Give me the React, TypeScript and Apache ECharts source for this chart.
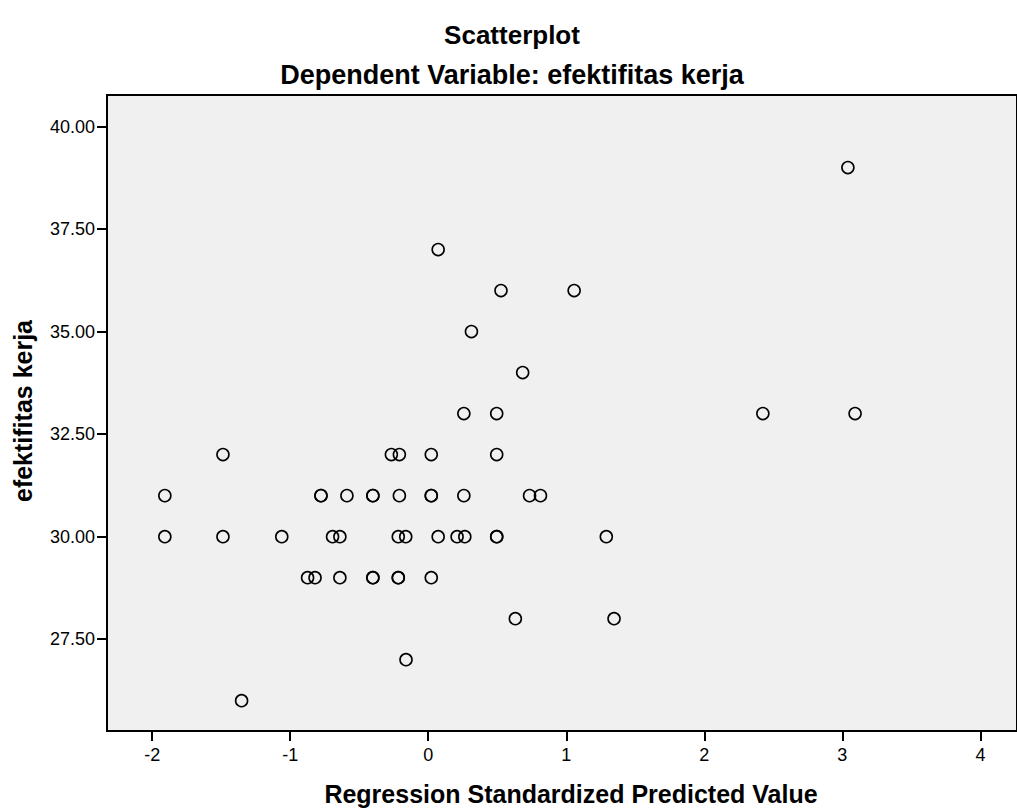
import React, { useEffect, useRef } from "react";
import * as echarts from "echarts";

const predictedValue: number[] = [
  3.04,
  0.072,
  0.527, 1.057,
  0.313,
  0.684,
  0.258, 0.496, 2.424, 3.092,
  -1.487, -0.267, -0.209, 0.022, 0.496,
  -1.908, -0.777, -0.777, -0.589, -0.401, -0.401, -0.209, 0.022, 0.022, 0.258, 0.734, 0.813,
  -1.908, -1.487, -1.061, -0.693, -0.64, -0.217, -0.163, 0.072, 0.209, 0.265, 0.496, 0.496, 1.29,
  -0.874, -0.82, -0.64, -0.401, -0.401, -0.217, -0.217, 0.022,
  0.631, 1.346,
  -0.161,
  -1.352,
];

const efektifitasKerja: number[] = [
  39,
  37,
  36, 36,
  35,
  34,
  33, 33, 33, 33,
  32, 32, 32, 32, 32,
  31, 31, 31, 31, 31, 31, 31, 31, 31, 31, 31, 31,
  30, 30, 30, 30, 30, 30, 30, 30, 30, 30, 30, 30, 30,
  29, 29, 29, 29, 29, 29, 29, 29,
  28, 28,
  27,
  26,
];

const xTicks: number[] = [-2, -1, 0, 1, 2, 3, 4];
const yTicks: number[] = [27.5, 30, 32.5, 35, 37.5, 40];

const titleText = "Scatterplot";
const subtitleText = "Dependent Variable: efektifitas kerja";
const xName = "Regression Standardized Predicted Value";
const yName = "efektifitas kerja";

const FONT = "'Liberation Sans', Arial, Helvetica, sans-serif";

export default function App() {
  const ref = useRef<HTMLDivElement>(null);

  useEffect(() => {
    if (!ref.current) return;
    const chart = echarts.init(ref.current, undefined, { renderer: "svg" });
    const points = predictedValue.map((x, i) => [x, efektifitasKerja[i]]);
    chart.setOption({
      animation: false,
      backgroundColor: "#ffffff",
      grid: {
        left: 107,
        top: 95,
        right: -3,
        bottom: 78,
        show: true,
        backgroundColor: "#f0f0f0",
        borderColor: "#000000",
        borderWidth: 2,
        containLabel: false,
      },
      xAxis: {
        type: "value",
        position: "bottom",
        min: -2.327,
        max: 4.265,
        axisLine: { show: true, onZero: false, lineStyle: { color: "#000", width: 2 } },
        splitLine: { show: false },
        axisTick: {
          show: true,
          inside: false,
          length: 10,
          lineStyle: { color: "#000", width: 2 },
          customValues: xTicks,
        },
        axisLabel: {
          color: "#000",
          fontFamily: FONT,
          fontSize: 18,
          margin: 15,
          customValues: xTicks,
          formatter: (v: number) => String(v),
        },
      },
      yAxis: {
        type: "value",
        position: "left",
        min: 25.26,
        max: 40.77,
        axisLine: { show: true, onZero: false, lineStyle: { color: "#000", width: 2 } },
        splitLine: { show: false },
        axisTick: {
          show: true,
          inside: false,
          length: 10,
          lineStyle: { color: "#000", width: 2 },
          customValues: yTicks,
        },
        axisLabel: {
          color: "#000",
          fontFamily: FONT,
          fontSize: 18,
          margin: 12,
          customValues: yTicks,
          formatter: (v: number) => v.toFixed(2),
        },
      },
      graphic: [
        {
          type: "text",
          x: 512,
          y: 35,
          style: {
            text: titleText,
            fill: "#000",
            font: `bold 26px ${FONT}`,
            textAlign: "center",
            textVerticalAlign: "middle",
          },
        },
        {
          type: "text",
          x: 512,
          y: 75,
          style: {
            text: subtitleText,
            fill: "#000",
            font: `bold 27px ${FONT}`,
            textAlign: "center",
            textVerticalAlign: "middle",
          },
        },
        {
          type: "text",
          x: 571,
          y: 794,
          style: {
            text: xName,
            fill: "#000",
            font: `bold 25px ${FONT}`,
            textAlign: "center",
            textVerticalAlign: "middle",
          },
        },
        {
          type: "text",
          x: 23,
          y: 411,
          rotation: Math.PI / 2,
          style: {
            text: yName,
            fill: "#000",
            font: `bold 25px ${FONT}`,
            textAlign: "center",
            textVerticalAlign: "middle",
          },
        },
      ],
      series: [
        {
          type: "scatter",
          data: points,
          symbol: "circle",
          symbolSize: 12,
          itemStyle: {
            color: "rgba(0,0,0,0)",
            borderColor: "#000000",
            borderWidth: 1.6,
            opacity: 1,
          },
          emphasis: { disabled: true },
        },
      ],
    });
    return () => chart.dispose();
  }, []);

  return (
    <div
      ref={ref}
      style={{ position: "absolute", left: 0, top: 0, width: 1017, height: 809 }}
    />
  );
}
